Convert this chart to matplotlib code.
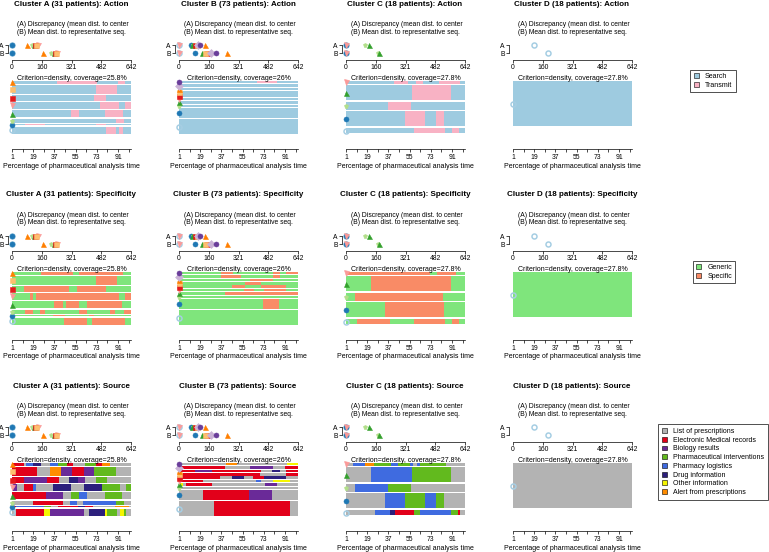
import matplotlib
matplotlib.use("Agg")
import matplotlib.pyplot as plt
from matplotlib.patches import Patch

plt.rcParams['font.family'] = ['Liberation Sans', 'DejaVu Sans']

W, H = 769, 552

clusters = ['A', 'B', 'C', 'D']
patients = [31, 73, 18, 18]
coverage = ['25.8%', '26%', '27.8%', '27.8%']
channels = ['Action', 'Specificity', 'Source']

# number of sequences assigned to each representative (top bar first)
counts = {
    'A': [2, 6, 4, 5, 5, 3, 1, 5],
    'B': [4, 4, 4, 4, 4, 4, 4, 4, 17, 24],
    'C': [1, 6, 3, 6, 2],
    'D': [18],
}

# (A) discrepancy and (B) mean dist. to representative (top bar first)
disc = {
    'A': [80, 130, 125, 140, 120, 110, 0, 0],
    'B': [113, 100, 140, 95, 85, 0, 70, 75, 65, 0],
    'C': [0, 125, 105, 0, 0],
    'D': [113],
}
mdist = {
    'A': [165, 235, 230, 245, 225, 210, 0, 0],
    'B': [200, 170, 259, 140, 151, 0, 124, 137, 86, 0],
    'C': [0, 180, 170, 0, 0],
    'D': [189],
}

# representative sequences, state + spell length (101 time points)
action = {
    'A': ["S38 T34 S18 T6 S5", "S71 T18 S12", "S70 T10 S21", "S75 T16 S5 T5",
          "S50 T7 S22 T15 S7", "S88 T7 S6", "S11 T17 S43 T9 S21", "S80 T8 S3 T3 S7"],
    'B': ["S66 T17 S18", "S101", "S101", "S101", "S101", "S101", "S101",
          "S101", "S101", "S101"],
    'C': ["S41 T12 S6 T6 S14 T18 S4", "S56 T33 S12", "S36 T19 S46",
          "S50 T17 S9 T7 S18", "S58 T26 S6 T6 S5"],
    'D': ["S101"],
}
specificity = {
    'A': ["G25 X27 G5 X37 G7", "G71 X18 G12", "G10 X38 G7 X25 G21",
          "G15 X3 G2 X71 G5 X5", "G36 X7 G3 X11 G7 X29 G8",
          "G11 X7 G6 X4 G29 X7 G19 X4 G8 X6", "G35 X10 G20 X5 G31",
          "G44 X20 G4 X28 G5"],
    'B': ["G36 X10 G34 X6 G5 X10", "G36 X17 G27 X6 G15", "G60 X20 G21",
          "G56 X14 G31", "G45 X11 G14 X21 G10", "G55 X9 G8 X19 G10",
          "G39 X62", "G101", "G71 X14 G16", "G101"],
    'C': ["X71 G6 X16 G8", "G21 X68 G12", "G8 X74 G19", "G33 X50 G18",
          "G9 X28 G21 X26 G6 X6 G5"],
    'D': ["G101"],
}
source = {
    'A': ["E10 L2 Y6 D7 L7 Y7 P8 E5 L10 P9 E5 W7 L18",
          "E21 L11 W10 B9 E10 B9 P18 L13",
          "E10 B20 E10 L8 D8 B6 L9 P10 L20",
          "L1 B3 L6 E8 Y2 L15 D15 L11 D15 P16 L5 P4",
          "E29 B14 L7 P7 Y7 L15 P14 L8",
          "L18 E25 L6 Y6 L5 Y28 P7 L6",
          "E3 Y24 P6 L6 E17 D6 E7 L18 W12 L2",
          "L3 E24 O5 B29 L4 D14 O2 P8 L3 O3 P2 L4"],
    'B': ["L40 W9 L43 O9", "E39 L21 B20 L10 E11", "E14 B14 E42 L9 D7 L5 E10",
          "E69 L22 E10", "E35 L10 D10 L8 E9 D19 L10", "E20 L45 Y5 L10 O14 L7",
          "O3 L3 E22 L45 B10 L18", "L101", "L20 E39 B20 L22",
          "L30 E64 L7"],
    'C': ["L6 Y10 W8 P14 Y6 P10 Y3 L3 Y3 P22 L16", "L21 Y35 P33 L12",
          "L8 Y28 P19 L46", "L33 Y17 P17 Y9 P7 L18",
          "L25 Y12 D5 E16 P5 Y26 P6 E2 L4"],
    'D': ["L101"],
}

action_states = {'S': ('Search', '#9ecbe0'), 'T': ('Transmit', '#f8b2c4')}
spec_states = {'G': ('Generic', '#7fe57c'), 'X': ('Specific', '#f98b66')}
source_states = {
    'L': ('List of prescriptions', '#b3b3b3'),
    'E': ('Electronic Medical records', '#e2001a'),
    'B': ('Biology results', '#6a2a98'),
    'P': ('Pharmaceutical interventions', '#62ba1e'),
    'Y': ('Pharmacy logistics', '#3f6be0'),
    'D': ('Drug information', '#2c1f7c'),
    'O': ('Other information', '#f5f500'),
    'W': ('Alert from prescriptions', '#ff8c00'),
}
channel_data = [(action, action_states), (specificity, spec_states),
                (source, source_states)]

# representative symbols (index from the bottom bar)
pal = ['#A6CEE3', '#1F78B4', '#B2DF8A', '#33A02C', '#FB9A99', '#E31A1C',
       '#FDBF6F', '#FF7F00', '#CAB2D6', '#6A3D9A', '#FFFF99', '#B15928']
marks = ['o', 'o', 'p', '^', 'v', 's', 's', '^', 'D', 'o', 's', 'v']

fig = plt.figure(figsize=(W / 100, H / 100), dpi=100)


def pax(left, top, width, height):
    return fig.add_axes([left / W, 1 - (top + height) / H, width / W, height / H])


def parse(seq):
    out = []
    for tok in seq.split():
        out.append((tok[0], int(tok[1:])))
    return out


def sym(ax, x, y, k, **kw):
    ax.plot(x, y, marks[k], color=pal[k], ms=3.6,
            mfc='none' if k == 0 else pal[k], mew=1.1 if k == 0 else 0.4,
            clip_on=False, **kw)


for r, (data, states) in enumerate(channel_data):
    for c, cl in enumerate(clusters):
        x0 = 12 + 167 * c
        y0 = 4 + 191 * r
        n = patients[c]
        cnt = counts[cl]
        nrep = len(cnt)

        fig.text((x0 + 59) / W, 1 - y0 / H,
                 'Cluster %s (%d patients): %s' % (cl, n, channels[r]),
                 ha='center', va='center', fontsize=5.8, fontweight='bold')
        fig.text((x0 + 5) / W, 1 - (y0 + 20) / H,
                 '(A) Discrepancy (mean dist. to center', fontsize=4.9, va='center')
        fig.text((x0 + 5) / W, 1 - (y0 + 28) / H,
                 '(B) Mean dist. to representative seq.', fontsize=4.9, va='center')
        fig.text((x0 + 60) / W, 1 - (y0 + 74) / H,
                 'Criterion=density, coverage=' + coverage[c],
                 ha='center', va='center', fontsize=5.0)
        fig.text((x0 + 59) / W, 1 - (y0 + 162) / H,
                 'Percentage of pharmaceutical analysis time',
                 ha='center', va='center', fontsize=5.05)

        # dissimilarity dot plot, bottom representative drawn first
        ad = pax(x0, y0 + 37, 119, 19)
        ad.set_xlim(0, 642)
        ad.set_ylim(0.13, 2.5)
        for i in range(nrep - 1, -1, -1):
            k = nrep - 1 - i
            sym(ad, disc[cl][i], 2, k)
            sym(ad, mdist[cl][i], 1, k)
        for s in ['top', 'right']:
            ad.spines[s].set_visible(False)
        ad.spines['left'].set_bounds(1, 2)
        ad.spines['left'].set_position(('outward', 3))
        ad.spines['bottom'].set_bounds(0, 642)
        ad.set_xticks([0, 160, 321, 482, 642])
        ad.set_yticks([1, 2])
        ad.set_yticklabels(['B', 'A'])
        ad.tick_params(labelsize=4.9, length=2, width=0.5, pad=0.8)
        for s in ['left', 'bottom']:
            ad.spines[s].set_linewidth(0.5)
        ad.patch.set_alpha(0)

        # representative sequences
        ab = pax(x0, y0 + 77, 119, 54)
        gap = 0.2 * n / nrep
        y = 0
        for i in range(nrep - 1, -1, -1):
            y += gap
            start = 0
            for st, ln in parse(data[cl][i]):
                ab.barh(y + cnt[i] / 2, ln, left=start, height=cnt[i],
                        color=states[st][1], linewidth=0)
                start += ln
            sym(ab, 0, y + cnt[i] / 2, nrep - 1 - i, zorder=5)
            y += cnt[i]
        ab.set_xlim(0, 101)
        ab.set_ylim(0, n * 1.2)
        for s in ['top', 'right', 'left']:
            ab.spines[s].set_visible(False)
        ab.spines['bottom'].set_position(('outward', 10))
        ab.spines['bottom'].set_linewidth(0.5)
        ab.spines['bottom'].set_bounds(0, 101)
        ab.set_yticks([])
        ab.set_xticks([0, 18, 36, 54, 72, 90])
        ab.set_xticklabels(['1', '19', '37', '55', '73', '91'])
        ab.set_xticks(range(0, 101, 9), minor=True)
        ab.tick_params(labelsize=4.9, length=2.5, width=0.5, pad=1.5)
        ab.tick_params(which='minor', length=2.5, width=0.5)

    handles = [Patch(facecolor=col, edgecolor='black', linewidth=0.4)
               for (lab, col) in states.values()]
    labels = [lab for (lab, col) in states.values()]
    cy = [81, 272, 462][r]
    cx = [713, 714, 713][r]
    fig.legend(handles, labels, loc='center', bbox_to_anchor=(cx / W, 1 - cy / H),
               fontsize=5.0, frameon=True, fancybox=False, edgecolor='black',
               handlelength=0.7, handleheight=0.7, handletextpad=0.9,
               labelspacing=0.25, borderpad=0.5).get_frame().set_linewidth(0.6)

fig.savefig('out.png', dpi=100)
